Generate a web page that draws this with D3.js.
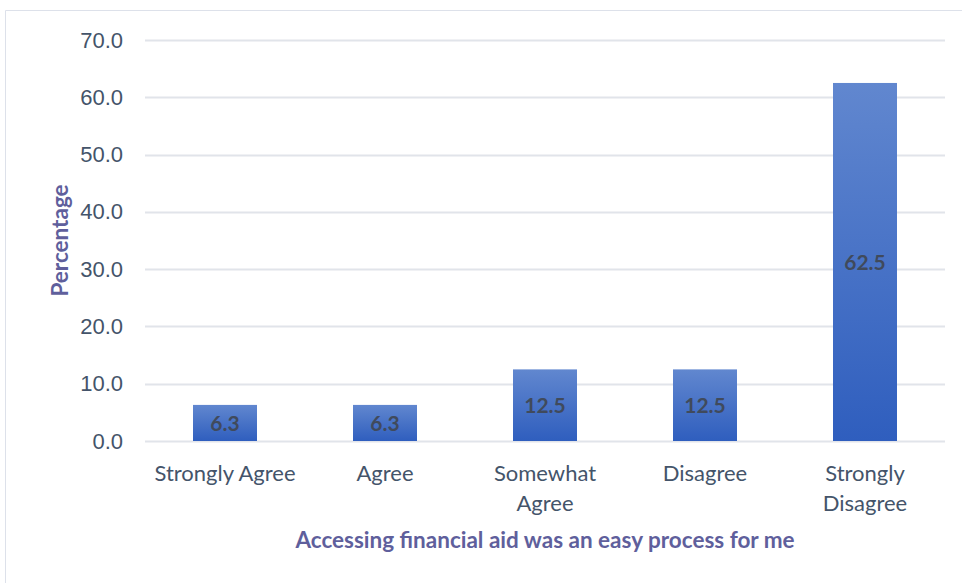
<!DOCTYPE html>
<html>
<head>
<meta charset="utf-8">
<script src="https://cdn.jsdelivr.net/npm/d3@7"></script>
<style>
  body { margin: 0; background: #fff; }
  svg { display: block; font-family: 'Lato', 'Open Sans', sans-serif; }
</style>
</head>
<body>
<svg id="chart" width="962" height="583"></svg>
<script>
// Chart data
const categories = ['Strongly Agree', 'Agree', 'Somewhat Agree', 'Disagree', 'Strongly Disagree'];
const values = [6.3, 6.3, 12.5, 12.5, 62.5];
const yTicks = [0, 10, 20, 30, 40, 50, 60, 70];

const svg = d3.select('#chart');
const margin = { top: 40, right: 17, bottom: 142, left: 145 };
const width = 962 - margin.left - margin.right;
const height = 583 - margin.top - margin.bottom;

// outer chart border (only top/left edges visible in the crop)
svg.append('path')
    .attr('d', 'M5.5,583 L5.5,10.5 L962,10.5')
    .attr('fill', 'none')
    .attr('stroke', '#dde1ea')
    .attr('stroke-width', 1);

const defs = svg.append('defs');
const grad = defs.append('linearGradient')
    .attr('id', 'barFill')
    .attr('x1', 0).attr('y1', 0).attr('x2', 0).attr('y2', 1);
grad.append('stop').attr('offset', '0%').attr('stop-color', '#6187cf');
grad.append('stop').attr('offset', '100%').attr('stop-color', '#2f5ebe');

const g = svg.append('g').attr('transform', `translate(${margin.left},${margin.top})`);

const x = d3.scaleBand().domain(categories).range([0, width]).paddingInner(0.6).paddingOuter(0.3);
const y = d3.scaleLinear().domain([0, 70]).range([height, 0]);

// gridlines
g.append('g')
    .selectAll('line')
    .data(yTicks)
    .enter()
    .append('line')
    .attr('x1', 0)
    .attr('x2', width)
    .attr('y1', d => Math.round(y(d)) + 0.5)
    .attr('y2', d => Math.round(y(d)) + 0.5)
    .attr('stroke', '#e1e4ea')
    .attr('stroke-width', 2);

// y tick labels
const yAxis = g.append('g')
    .call(d3.axisLeft(y).tickValues(yTicks).tickFormat(d3.format('.1f')).tickSize(0).tickPadding(22));
yAxis.select('.domain').remove();
yAxis.selectAll('text')
    .attr('fill', '#44546a')
    .style('font-size', '22px');

// bars
g.append('g')
    .selectAll('rect')
    .data(values)
    .enter()
    .append('rect')
    .attr('x', (d, i) => x(categories[i]))
    .attr('y', d => y(d))
    .attr('width', x.bandwidth())
    .attr('height', d => height - y(d))
    .attr('fill', 'url(#barFill)');

// data labels
g.append('g')
    .selectAll('text')
    .data(values)
    .enter()
    .append('text')
    .attr('x', (d, i) => x(categories[i]) + x.bandwidth() / 2)
    .attr('y', d => (y(d) + height) / 2)
    .attr('dy', '0.36em')
    .attr('text-anchor', 'middle')
    .attr('fill', '#404a5c')
    .style('font-size', '21px')
    .style('font-weight', 'bold')
    .text(d => d.toFixed(1));

// category labels (wrapped like the original)
const labelLines = {
    'Strongly Agree': ['Strongly Agree'],
    'Agree': ['Agree'],
    'Somewhat Agree': ['Somewhat', 'Agree'],
    'Disagree': ['Disagree'],
    'Strongly Disagree': ['Strongly', 'Disagree']
};
const xLabels = g.append('g')
    .selectAll('text')
    .data(categories)
    .enter()
    .append('text')
    .attr('x', d => x(d) + x.bandwidth() / 2)
    .attr('y', height + 40)
    .attr('text-anchor', 'middle')
    .attr('fill', '#44546a')
    .style('font-size', '22px');
xLabels.each(function(d) {
    const t = d3.select(this);
    labelLines[d].forEach((line, i) => {
        t.append('tspan')
            .attr('x', x(d) + x.bandwidth() / 2)
            .attr('dy', i === 0 ? 0 : 30)
            .text(line);
    });
});

// axis titles
svg.append('text')
    .attr('x', margin.left + width / 2)
    .attr('y', 548)
    .attr('text-anchor', 'middle')
    .attr('fill', '#5f5f9c')
    .style('font-size', '22.5px')
    .style('font-weight', 'bold')
    .text('Accessing financial aid was an easy process for me');

svg.append('text')
    .attr('transform', `translate(68,${margin.top + height / 2}) rotate(-90)`)
    .attr('text-anchor', 'middle')
    .attr('fill', '#5f5f9c')
    .style('font-size', '22.5px')
    .style('font-weight', 'bold')
    .text('Percentage');
</script>
</body>
</html>
